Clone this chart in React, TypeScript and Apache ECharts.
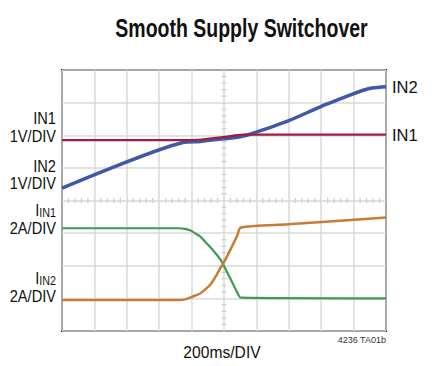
import React, { useEffect, useRef } from "react";
import * as echarts from "echarts";

// Oscilloscope screen: 10 horizontal x 8 vertical divisions
const X_DIVS = 10;
const Y_DIVS = 8;

// Traces, in divisions [time div, vertical div]
const in1Voltage: [number, number][] = [
  [0, 5.85], [3.9, 5.85], [4.3, 5.87], [4.97, 5.94], [5.3, 5.99], [5.6, 6.02], [10, 6.02],
];
const in2Voltage: [number, number][] = [
  [0, 4.38], [3.73, 5.78], [4.26, 5.81], [4.97, 5.89], [5.3, 5.92], [5.49, 5.95], [5.8, 6.03],
  [6.98, 6.44], [7.99, 6.88], [8.97, 7.26], [9.3, 7.38], [9.57, 7.45], [10, 7.49],
];
const in1Current: [number, number][] = [
  [0, 3.15], [3.6, 3.15], [3.8, 3.13], [3.97, 3.08], [4.1, 3.0], [4.26, 2.9], [4.5, 2.65],
  [4.7, 2.43], [4.88, 2.2], [4.97, 2.05], [5.2, 1.6], [5.4, 1.2], [5.52, 1.02], [10, 1.0],
];
const in2Current: [number, number][] = [
  [0, 0.95], [3.6, 0.95], [3.8, 0.97], [3.97, 1.03], [4.1, 1.08], [4.26, 1.15], [4.45, 1.3],
  [4.6, 1.45], [4.75, 1.68], [4.88, 1.92], [4.97, 2.05], [5.1, 2.3], [5.25, 2.6], [5.4, 2.9],
  [5.52, 3.17], [6.98, 3.27], [10, 3.48],
];

const TITLE = "Smooth Supply Switchover";
const X_LABEL = "200ms/DIV";
const FIG_ID = "4236 TA01b";

const FONT = '"Liberation Sans", Arial, Helvetica, sans-serif';

// graticule minor ticks on the centre lines (every 1/5 division)
const centerTicks: [number, number, number][] = [];
for (let i = 1; i < X_DIVS * 5; i++) {
  if (i % 5 !== 0) centerTicks.push([i / 5, Y_DIVS / 2, 0]);
}
for (let i = 1; i < Y_DIVS * 5; i++) {
  if (i % 5 !== 0) centerTicks.push([X_DIVS / 2, i / 5, 1]);
}

export default function App() {
  const ref = useRef<HTMLDivElement>(null);
  useEffect(() => {
    if (!ref.current) return;
    const chart = echarts.init(ref.current, undefined, { renderer: "svg" });
    const leftText = (text: string, y: number) => ({
      type: "text",
      x: 56,
      y,
      scaleX: 0.86,
      style: {
        text,
        x: 0,
        y: 0,
        textAlign: "right",
        textVerticalAlign: "middle",
        font: `17px ${FONT}`,
        fill: "#111",
      },
    });
    const subText = (sub: string, y: number) => ({
      type: "text",
      x: 56,
      y,
      scaleX: 0.86,
      style: {
        text: `{a|I}{b|${sub}}`,
        x: 0,
        y: 0,
        textAlign: "right",
        textVerticalAlign: "middle",
        fill: "#111",
        rich: {
          a: { fontSize: 17, fontFamily: FONT, lineHeight: 17, verticalAlign: "top", fill: "#111" },
          b: { fontSize: 12.5, fontFamily: FONT, lineHeight: 12, padding: [7, 0, 0, 0], verticalAlign: "bottom", fill: "#111" },
        },
      },
    });
    const lineSeries = (name: string, data: [number, number][], color: string, width: number, endText?: string) => ({
      name,
      type: "line",
      data,
      showSymbol: false,
      smooth: 0.25,
      lineStyle: { color, width },
      itemStyle: { color },
      z: 3,
      endLabel: endText
        ? { show: true, formatter: endText, color: "#111", fontSize: 16.5, fontFamily: FONT, distance: 6 }
        : { show: false },
    });
    chart.setOption({
      animation: false,
      backgroundColor: "#fff",
      grid: {
        left: 62,
        right: 49,
        top: 70,
        bottom: 35,
        show: true,
        borderColor: "#1a1a1a",
        borderWidth: 2,
        backgroundColor: "#fff",
      },
      xAxis: {
        type: "value",
        min: 0,
        max: X_DIVS,
        interval: 1,
        axisLabel: { show: false },
        axisTick: { show: false },
        axisLine: { show: false },
        splitLine: { show: true, lineStyle: { color: "#d8d8d8", width: 1.5 } },
      },
      yAxis: {
        type: "value",
        min: 0,
        max: Y_DIVS,
        interval: 1,
        axisLabel: { show: false },
        axisTick: { show: false },
        axisLine: { show: false },
        splitLine: { show: true, lineStyle: { color: "#d8d8d8", width: 1.5 } },
      },
      series: [
        {
          type: "custom",
          data: centerTicks,
          silent: true,
          z: 1,
          renderItem: (_p: any, api: any) => {
            const pt = api.coord([api.value(0), api.value(1)]);
            const vertical = api.value(2) === 1;
            return {
              type: "line",
              shape: vertical
                ? { x1: pt[0] - 2.5, y1: pt[1], x2: pt[0] + 2.5, y2: pt[1] }
                : { x1: pt[0], y1: pt[1] - 2.5, x2: pt[0], y2: pt[1] + 2.5 },
              style: { stroke: "#cccccc", lineWidth: 1.2 },
            };
          },
        },
        lineSeries("IN2", in2Voltage, "#3f58a8", 3.5, "IN2"),
        lineSeries("IN1", in1Voltage, "#a11d3d", 2.2, "IN1"),
        lineSeries("IIN1", in1Current, "#3f9a55", 2.2),
        lineSeries("IIN2", in2Current, "#c77b33", 2.5),
      ],
      graphic: [
        {
          type: "text",
          x: 241.5,
          y: 28.5,
          scaleX: 0.78,
          style: {
            text: TITLE,
            x: 0,
            y: 0,
            textAlign: "center",
            textVerticalAlign: "middle",
            font: `bold 25px ${FONT}`,
            fill: "#111",
          },
        },
        leftText("IN1", 118.5),
        leftText("1V/DIV", 136.5),
        leftText("IN2", 166.5),
        leftText("1V/DIV", 183.5),
        subText("IN1", 210),
        leftText("2A/DIV", 228),
        subText("IN2", 278),
        leftText("2A/DIV", 296),
        {
          type: "text",
          x: 222,
          y: 351.5,
          scaleX: 0.92,
          style: {
            text: X_LABEL,
            x: 0,
            y: 0,
            textAlign: "center",
            textVerticalAlign: "middle",
            font: `17px ${FONT}`,
            fill: "#111",
          },
        },
        {
          type: "text",
          x: 386,
          y: 340,
          scaleX: 0.95,
          style: {
            text: FIG_ID,
            x: 0,
            y: 0,
            textAlign: "right",
            textVerticalAlign: "middle",
            font: `9.5px ${FONT}`,
            fill: "#333",
          },
        },
      ],
    });
    return () => chart.dispose();
  }, []);
  return (
    <div
      ref={ref}
      style={{ position: "fixed", left: 0, top: 0, width: 435, height: 366, background: "#fff" }}
    />
  );
}
